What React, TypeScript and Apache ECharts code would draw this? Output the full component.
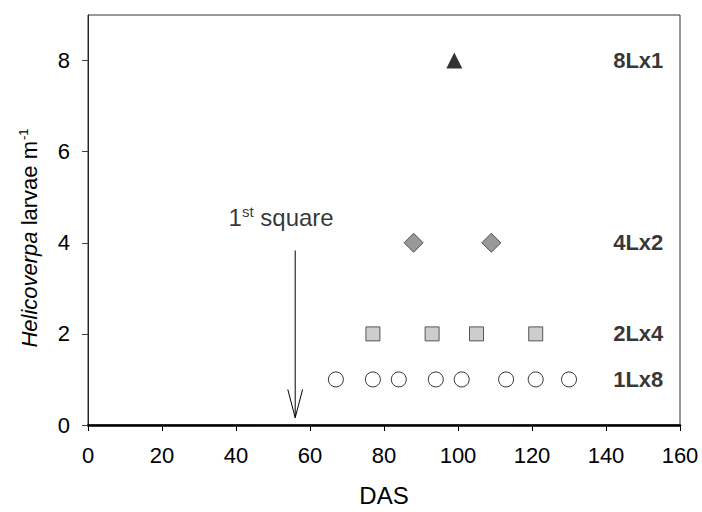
import React, { useEffect, useRef } from "react";
import * as echarts from "echarts";

const xTicks = [0, 20, 40, 60, 80, 100, 120, 140, 160];
const yTicks = [0, 2, 4, 6, 8];

const das1Lx8 = [67, 77, 84, 94, 101, 113, 121, 130];
const val1Lx8 = 1;
const das2Lx4 = [77, 93, 105, 121];
const val2Lx4 = 2;
const das4Lx2 = [88, 109];
const val4Lx2 = 4;
const das8Lx1 = [99];
const val8Lx1 = 8;

const treatmentNames = ["8Lx1", "4Lx2", "2Lx4", "1Lx8"];
const treatmentValues = [8, 4, 2, 1];
const treatmentLabelX = 155.5;

const firstSquareDAS = 56;
const arrowTop = 3.83;
const arrowTip = 0.16;
const arrowHeadBase = 0.78;
const arrowHeadHalf = 2.0;
const annotationPos = [52.2, 4.55];

const FONT = "'Liberation Sans', Arial, sans-serif";

export default function App() {
  const ref = useRef<HTMLDivElement>(null);
  useEffect(() => {
    if (!ref.current) return;
    const chart = echarts.init(ref.current, null, { renderer: "svg" });
    const pts = (xs: number[], y: number) => xs.map((x) => [x, y]);
    chart.setOption({
      animation: false,
      backgroundColor: "#ffffff",
      textStyle: { fontFamily: FONT },
      grid: {
        left: 88,
        right: 22,
        top: 15,
        bottom: 83,
        show: true,
        borderColor: "#333",
        borderWidth: 1,
        backgroundColor: "transparent",
      },
      xAxis: {
        type: "value",
        min: 0,
        max: 160,
        interval: 20,
        name: "DAS",
        nameLocation: "middle",
        nameGap: 58,
        nameTextStyle: { fontSize: 24, color: "#000", fontFamily: FONT },
        axisLine: { show: true, onZero: false, lineStyle: { color: "#000", width: 2.5 } },
        axisTick: { show: true, inside: false, length: 6, lineStyle: { color: "#000", width: 1 } },
        axisLabel: { fontSize: 22, color: "#000", margin: 19, fontFamily: FONT },
        splitLine: { show: false },
      },
      yAxis: {
        type: "value",
        min: 0,
        max: 9,
        interval: 2,
        axisLine: { show: true, onZero: false, lineStyle: { color: "#222", width: 1 } },
        axisTick: {
          show: true,
          inside: false,
          length: 6,
          customValues: yTicks,
          lineStyle: { color: "#444", width: 1 },
        },
        axisLabel: {
          fontSize: 22,
          color: "#000",
          margin: 18,
          customValues: yTicks,
          fontFamily: FONT,
        },
        splitLine: { show: false },
      },
      graphic: [
        {
          type: "text",
          x: 29,
          y: 238,
          rotation: Math.PI / 2,
          style: {
            text: "{it|Helicoverpa} larvae m{sup|-1}",
            align: "center",
            verticalAlign: "middle",
            fill: "#000",
            font: `22px ${FONT}`,
            rich: {
              it: { fontStyle: "italic", fontSize: 22, fontFamily: FONT, fill: "#000" },
              sup: { fontSize: 13, fontFamily: FONT, verticalAlign: "top", padding: [0, 0, 11, 1], fill: "#000" },
            },
          },
        },
      ],
      series: [
        {
          type: "scatter",
          name: "1Lx8",
          data: pts(das1Lx8, val1Lx8),
          symbol: "circle",
          symbolSize: 15,
          itemStyle: { color: "#fff", borderColor: "#000", borderWidth: 1 },
        },
        {
          type: "scatter",
          name: "2Lx4",
          data: pts(das2Lx4, val2Lx4),
          symbol: "rect",
          symbolSize: 14,
          itemStyle: { color: "#c0c0c0", borderColor: "#333", borderWidth: 1 },
        },
        {
          type: "scatter",
          name: "4Lx2",
          data: pts(das4Lx2, val4Lx2),
          symbol: "diamond",
          symbolSize: 19,
          itemStyle: { color: "#808080", borderColor: "#333", borderWidth: 1 },
        },
        {
          type: "scatter",
          name: "8Lx1",
          data: pts(das8Lx1, val8Lx1),
          symbol: "triangle",
          symbolSize: 16,
          itemStyle: { color: "#000", borderColor: "#000", borderWidth: 0 },
        },
        {
          type: "scatter",
          name: "labels",
          symbolSize: 0,
          data: treatmentNames.map((n, i) => ({ name: n, value: [treatmentLabelX, treatmentValues[i]] })),
          label: {
            show: true,
            position: "inside",
            formatter: "{b}",
            align: "right",
            verticalAlign: "middle",
            fontSize: 22,
            fontWeight: "bold",
            color: "#000",
            fontFamily: FONT,
          },
          silent: true,
        },
        {
          type: "line",
          name: "arrowShaft",
          data: [
            [firstSquareDAS, arrowTop],
            [firstSquareDAS, arrowTip],
          ],
          symbol: "none",
          lineStyle: { color: "#000", width: 1 },
          silent: true,
        },
        {
          type: "line",
          name: "arrowHead",
          data: [
            [firstSquareDAS - arrowHeadHalf, arrowHeadBase],
            [firstSquareDAS, arrowTip],
            [firstSquareDAS + arrowHeadHalf, arrowHeadBase],
          ],
          symbol: "none",
          lineStyle: { color: "#000", width: 1 },
          silent: true,
        },
        {
          type: "scatter",
          name: "annotation",
          symbolSize: 0,
          data: [{ name: "1st square", value: annotationPos }],
          label: {
            show: true,
            position: "inside",
            formatter: "{n|1}{sup|st}{n| square}",
            align: "center",
            verticalAlign: "middle",
            rich: {
              n: { fontSize: 24, color: "#000", fontFamily: FONT },
              sup: { fontSize: 15, color: "#000", fontFamily: FONT, verticalAlign: "top", padding: [0, 0, 12, 0] },
            },
          },
          silent: true,
        },
      ],
    });
    return () => chart.dispose();
  }, []);
  return <div ref={ref} style={{ width: 702, height: 512, position: "absolute", left: 0, top: 0 }} />;
}
